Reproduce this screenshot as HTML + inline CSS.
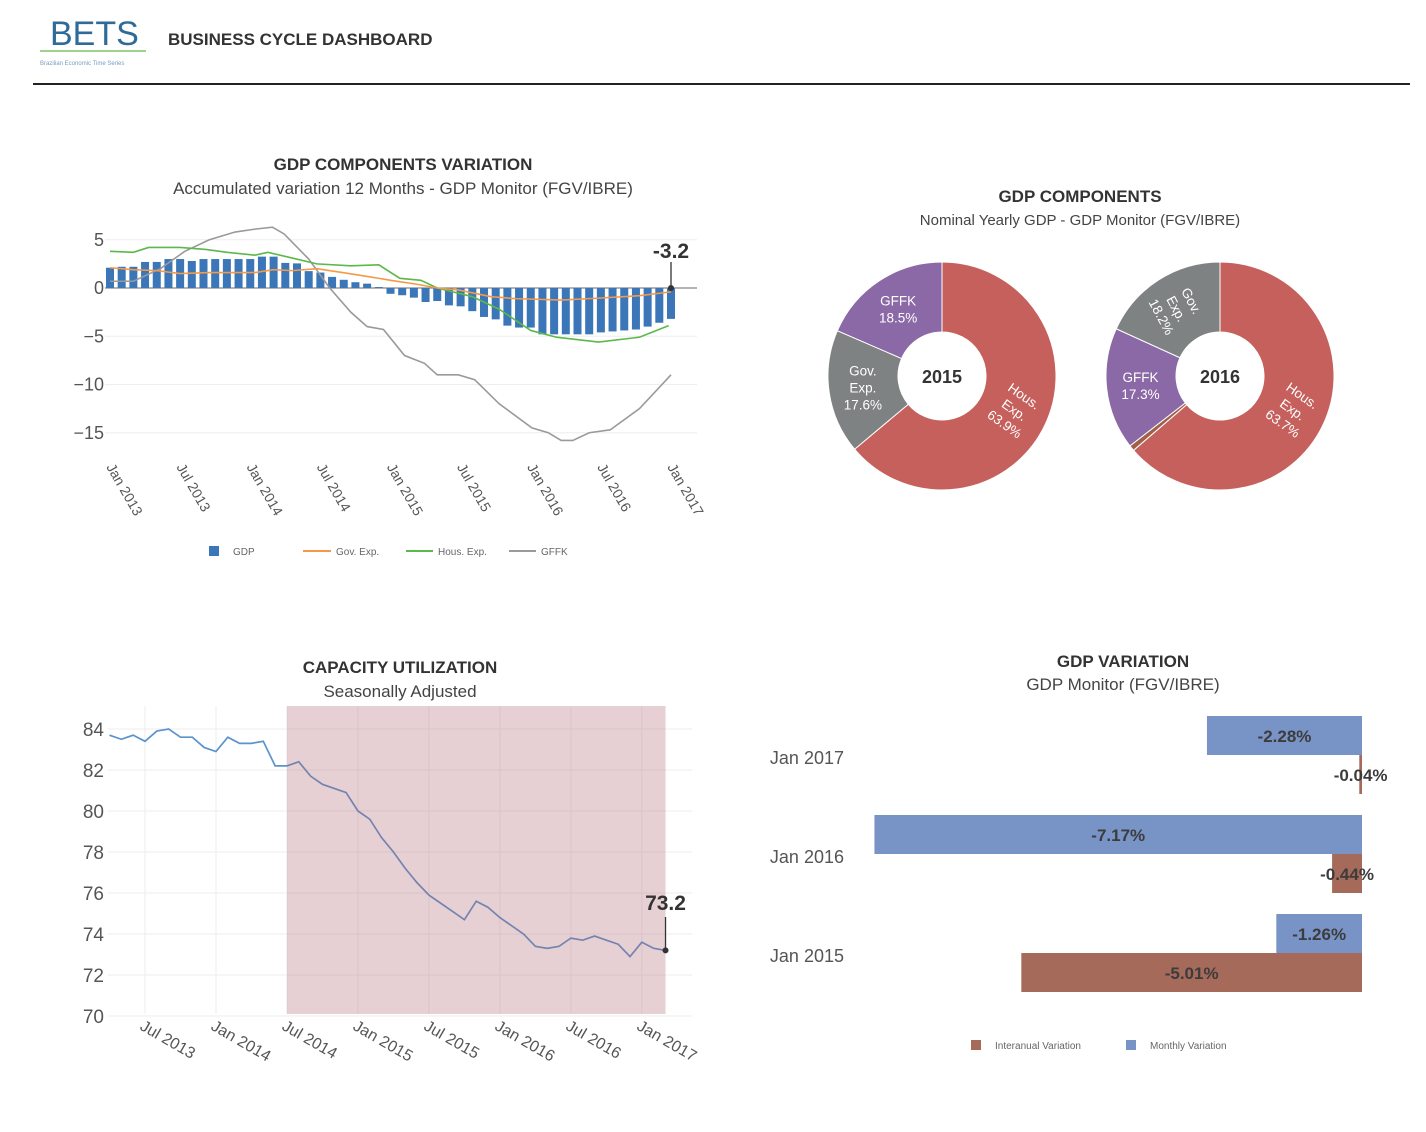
<!DOCTYPE html>
<html><head><meta charset="utf-8"><style>
html,body{margin:0;padding:0;background:#fff;}
svg{display:block;font-family:"Liberation Sans",sans-serif;}
</style></head><body>
<svg id="dash" width="1426" height="1132" viewBox="0 0 1426 1132" xmlns="http://www.w3.org/2000/svg">
<g>
<text x="50" y="45" font-size="34" fill="#2f6b98">BETS</text>
<line x1="40" y1="51" x2="146" y2="51" stroke="#9fd28c" stroke-width="2"/>
<text x="40" y="65" font-size="6" fill="#7a9cc0">Brazilian Economic Time Series</text>
<text x="168" y="45" font-size="17" font-weight="bold" fill="#333">BUSINESS CYCLE DASHBOARD</text>
<line x1="33" y1="84" x2="1410" y2="84" stroke="#222" stroke-width="2"/>
</g>
<text x="403" y="170" font-size="17" font-weight="bold" fill="#333" text-anchor="middle">GDP COMPONENTS VARIATION</text>
<text x="403" y="194" font-size="17" fill="#444" text-anchor="middle">Accumulated variation 12 Months - GDP Monitor (FGV/IBRE)</text>
<g id="c1"></g>
<text x="1080" y="202" font-size="17" font-weight="bold" fill="#333" text-anchor="middle">GDP COMPONENTS</text>
<text x="1080" y="225" font-size="15" fill="#444" text-anchor="middle">Nominal Yearly GDP - GDP Monitor (FGV/IBRE)</text>
<g id="c3"></g>
<text x="400" y="673" font-size="17" font-weight="bold" fill="#333" text-anchor="middle">CAPACITY UTILIZATION</text>
<text x="400" y="697" font-size="17" fill="#444" text-anchor="middle">Seasonally Adjusted</text>
<g id="c2"></g>
<text x="1123" y="667" font-size="17" font-weight="bold" fill="#333" text-anchor="middle">GDP VARIATION</text>
<text x="1123" y="690" font-size="17" fill="#444" text-anchor="middle">GDP Monitor (FGV/IBRE)</text>
<g id="c4"></g>
</svg>
<script>
// ---- Chart 1 data (month index from Jan 2013) ----
const gdpValues=[2.1,2.2,2.2,2.7,2.7,3.0,3.0,2.8,3.0,3.0,3.0,3.0,3.0,3.25,3.25,2.6,2.55,1.75,1.6,1.15,0.85,0.6,0.45,0.1,-0.6,-0.75,-1.0,-1.45,-1.35,-1.8,-1.9,-2.4,-3.0,-3.25,-3.9,-4.1,-4.1,-4.8,-4.8,-4.8,-4.8,-4.8,-4.6,-4.5,-4.4,-4.3,-4.0,-3.6,-3.2];
const govMonths=[0,2,4,6,8.5,10.7,12.4,14,15.6,17.7,19.9,22,24,26.2,28,29.8,32.6,34.7,38.6,41.8,45.3,48];
const govValues=[2.1,1.9,1.8,1.5,1.6,1.6,1.6,1.9,1.8,2.0,1.6,1.2,0.8,0.4,0,-0.2,-0.9,-1.1,-1.25,-1.05,-0.8,-0.4];
const housMonths=[0,2,3.3,6,8.2,10,12.4,13.5,15.6,17.7,20.6,23,24.8,26.6,28,31,33.3,36,38.2,41.8,45.3,47.8];
const housValues=[3.8,3.7,4.2,4.2,4.0,3.7,3.4,3.7,3.1,2.5,2.3,2.4,1.0,0.8,0,-0.9,-2.2,-4.4,-5.1,-5.6,-5.1,-3.9];
const gffkMonths=[0,2,4.3,6.4,8.5,10.7,12.4,13.9,14.9,17,18.8,20.6,22,23.4,25.2,26.9,28,29.8,31.2,33.3,36.1,37.5,38.6,39.6,41,42.8,45.3,48];
const gffkValues=[0.7,0.7,2.0,3.8,5.0,5.8,6.1,6.3,5.6,3.0,0,-2.5,-4.0,-4.3,-7,-7.8,-9.0,-9.0,-9.5,-12,-14.5,-15,-15.8,-15.8,-15.0,-14.7,-12.5,-9.0];
const c1YTicks=[5,0,-5,-10,-15];
const c1XTickMonths=[0,6,12,18,24,30,36,42,48];
const c1XTickLabels=["Jan 2013","Jul 2013","Jan 2014","Jul 2014","Jan 2015","Jul 2015","Jan 2016","Jul 2016","Jan 2017"];
// ---- Chart 2 data ----
const capMonthStart=3;
const capValues=[83.7,83.5,83.7,83.4,83.9,84.0,83.6,83.6,83.1,82.9,83.6,83.3,83.3,83.4,82.2,82.2,82.4,81.7,81.3,81.1,80.9,80.0,79.6,78.7,78.0,77.2,76.5,75.9,75.5,75.1,74.7,75.6,75.3,74.8,74.4,74.0,73.4,73.3,73.4,73.8,73.7,73.9,73.7,73.5,72.9,73.6,73.3,73.2];
const recessionStartMonth=18, recessionEndMonth=50;
const c2YTicks=[70,72,74,76,78,80,82,84];
const c2XTickMonths=[6,12,18,24,30,36,42,48];
const c2XTickLabels=["Jul 2013","Jan 2014","Jul 2014","Jan 2015","Jul 2015","Jan 2016","Jul 2016","Jan 2017"];
// ---- Chart 3 data ----
const pieYears=["2015","2016"];
const pieLabels2015=["Hous. Exp.","Gov. Exp.","GFFK"];
const pieValues2015=[63.9,17.6,18.5];
const pieLabels2016=["Hous. Exp.","Other","GFFK","Gov. Exp."];
const pieValues2016=[63.7,0.8,17.3,18.2];
// ---- Chart 4 data ----
const varCategories=["Jan 2017","Jan 2016","Jan 2015"];
const monthlyVar=[-2.28,-7.17,-1.26];
const interanualVar=[-0.04,-0.44,-5.01];

const NS="http://www.w3.org/2000/svg";
function mk(parent,tag,attrs,text){const e=document.createElementNS(NS,tag);for(const k in attrs)e.setAttribute(k,attrs[k]);if(text!==undefined)e.textContent=text;parent.appendChild(e);return e;}

// Chart 1
(function(){
const g=document.getElementById('c1');
const x=m=>110+m*(671-110)/48, y=v=>288-v*9.65;
c1YTicks.forEach(t=>{
  const l=mk(g,'line',{x1:105,x2:697,y1:y(t),y2:y(t),stroke:t===0?'#888':'#eee','stroke-width':t===0?1.3:1});
  
  
  const tx=mk(g,'text',{x:104,y:y(t)+6,'font-size':18,fill:'#555','text-anchor':'end'},t<0?'−'+Math.abs(t):String(t));
  
  
});
c1XTickMonths.forEach((m,i)=>{
  const tx=mk(g,'text',{x:0,y:0,'font-size':14,fill:'#555',transform:`translate(${x(m)-4},${467}) rotate(60)`},c1XTickLabels[i]);
  
  
});
gdpValues.forEach((v,i)=>{
  const r=mk(g,'rect',{x:x(i)-4,y:Math.min(y(v),y(0)),width:8,height:Math.abs(y(v)-y(0)),fill:'#3a76b8'});
  
  
});
function line(ms,vs,col,name){
  const p=mk(g,'polyline',{points:ms.map((m,i)=>x(m)+','+y(vs[i])).join(' '),fill:'none',stroke:col,'stroke-width':1.6});
  
  
}
line(gffkMonths,gffkValues,'#9a9a9a','gffk-line');
line(housMonths,housValues,'#5cb84a','hous-exp-line');
line(govMonths,govValues,'#f39a4a','gov-exp-line');
const last=gdpValues.length-1;
mk(g,'line',{x1:x(last),x2:x(last),y1:y(0),y2:262,stroke:'#333','stroke-width':1.3});
mk(g,'circle',{cx:x(last),cy:y(0),r:3,fill:'#333'});
const an=mk(g,'text',{x:x(last),y:258,'font-size':21,'font-weight':'bold',fill:'#333','text-anchor':'middle'},gdpValues[last].toFixed(1));


const lg=mk(g,'g',{});


mk(lg,'rect',{x:209,y:546,width:10,height:10,fill:'#3a76b8'});
mk(lg,'text',{x:233,y:555,'font-size':10,fill:'#666'},'GDP');
mk(lg,'line',{x1:303,x2:331,y1:551,y2:551,stroke:'#f39a4a','stroke-width':2});
mk(lg,'text',{x:336,y:555,'font-size':10,fill:'#666'},'Gov. Exp.');
mk(lg,'line',{x1:406,x2:433,y1:551,y2:551,stroke:'#5cb84a','stroke-width':2});
mk(lg,'text',{x:438,y:555,'font-size':10,fill:'#666'},'Hous. Exp.');
mk(lg,'line',{x1:509,x2:536,y1:551,y2:551,stroke:'#9a9a9a','stroke-width':2});
mk(lg,'text',{x:541,y:555,'font-size':10,fill:'#666'},'GFFK');
})();

// Chart 2
(function(){
const g=document.getElementById('c2');
const x=m=>145+(m-6)*11.83, y=v=>729-(v-84)*20.5;
c2YTicks.forEach(t=>{
  const l=mk(g,'line',{x1:108,x2:692,y1:y(t),y2:y(t),stroke:'#eee'});
  
  
  const tx=mk(g,'text',{x:104,y:y(t)+7,'font-size':19,fill:'#555','text-anchor':'end'},String(t));
  
  
});
c2XTickMonths.forEach((m,i)=>{
  mk(g,'line',{x1:x(m),x2:x(m),y1:706,y2:1014,stroke:'#eee'});
  const tx=mk(g,'text',{x:0,y:0,'font-size':16,fill:'#555',transform:`translate(${x(m)-6},${1029}) rotate(30)`},c2XTickLabels[i]);
  
  
});
const p=mk(g,'polyline',{points:capValues.map((v,i)=>x(capMonthStart+i)+','+y(v)).join(' '),fill:'none',stroke:'#5b93cc','stroke-width':1.7});


const r=mk(g,'rect',{x:x(recessionStartMonth),y:706,width:x(recessionEndMonth)-x(recessionStartMonth),height:308,fill:'#b06370','fill-opacity':0.3});


const lm=capMonthStart+capValues.length-1, lv=capValues[capValues.length-1];
mk(g,'line',{x1:x(lm),x2:x(lm),y1:y(lv),y2:917,stroke:'#333','stroke-width':1.3});
mk(g,'circle',{cx:x(lm),cy:y(lv),r:3,fill:'#333'});
const an=mk(g,'text',{x:x(lm),y:910,'font-size':21,'font-weight':'bold',fill:'#333','text-anchor':'middle'},lv.toFixed(1));


})();

// Chart 3
(function(){
const g=document.getElementById('c3');
const colors={"Hous. Exp.":"#c5605c","Gov. Exp.":"#7f8282","GFFK":"#8b68a6","Other":"#a0604a"};
const labelRot={"Hous. Exp.":35,"Gov. Exp.":0,"GFFK":0,"Other":0};
const centers=[[942,376],[1220,376]];
const R=114,r0=44;
[[pieLabels2015,pieValues2015],[pieLabels2016,pieValues2016]].forEach((d,k)=>{
  const [cx,cy]=centers[k];
  const tot=d[1].reduce((a,b)=>a+b,0);
  let a=0;
  d[1].forEach((v,i)=>{
    const a0=a/tot*2*Math.PI, a1=(a+v)/tot*2*Math.PI; a+=v;
    const P=(rr,t)=>[cx+rr*Math.sin(t),cy-rr*Math.cos(t)];
    const large=(a1-a0)>Math.PI?1:0;
    const [x0,y0]=P(R,a0),[x1,y1]=P(R,a1),[x2,y2]=P(r0,a1),[x3,y3]=P(r0,a0);
    const s=mk(g,'path',{d:`M${x0},${y0}A${R},${R} 0 ${large} 1 ${x1},${y1}L${x2},${y2}A${r0},${r0} 0 ${large} 0 ${x3},${y3}Z`,fill:colors[d[0][i]],stroke:'#fff','stroke-width':1});
    
    
    if(d[0][i]==='Other')return;
    const am=(a0+a1)/2; const [lx,ly]=P(80,am);
    let rot=labelRot[d[0][i]]; if(k===1&&d[0][i]==='Gov. Exp.')rot=62;
    const words=d[0][i].split(' ').concat([v.toFixed(1)+'%']);
    const t=mk(g,'text',{x:lx,y:ly,'font-size':13.5,fill:'#fff','text-anchor':'middle',transform:`rotate(${rot},${lx},${ly})`});
    
    
    const n=words.length;
    words.forEach((w,j)=>mk(t,'tspan',{x:lx,y:ly+(j-(n-1)/2)*17+5},w));
  });
  const yt=mk(g,'text',{x:cx,y:cy+7,'font-size':18,'font-weight':'bold',fill:'#333','text-anchor':'middle'},pieYears[k]);
  
  
});
})();

// Chart 4
(function(){
const g=document.getElementById('c4');
const x=v=>1362+v*68;
const rowC=[755,854,953];
varCategories.forEach((c,i)=>{
  const t=mk(g,'text',{x:844,y:rowC[i]+9,'font-size':18,fill:'#555','text-anchor':'end'},c);
  
  
  const b=mk(g,'rect',{x:x(monthlyVar[i]),y:rowC[i]-39,width:x(0)-x(monthlyVar[i]),height:39,fill:'#7893c6'});
  
  
  const b2=mk(g,'rect',{x:x(interanualVar[i]),y:rowC[i],width:Math.max(2,x(0)-x(interanualVar[i])),height:39,fill:'#a56a59'});
  
  
  const tm=mk(g,'text',{x:(x(monthlyVar[i])+x(0))/2,y:rowC[i]-13,'font-size':17,'font-weight':'bold',fill:'#3c3c3c','text-anchor':'middle'},monthlyVar[i].toFixed(2)+'%');
  
  
  const ti=mk(g,'text',{x:Math.min((x(interanualVar[i])+x(0))/2,1362),y:rowC[i]+26,'font-size':17,'font-weight':'bold',fill:'#3c3c3c','text-anchor':'middle'},interanualVar[i].toFixed(2)+'%');
  
  
});
const lg=mk(g,'g',{});


mk(lg,'rect',{x:971,y:1040,width:10,height:10,fill:'#a56a59'});
mk(lg,'text',{x:995,y:1049,'font-size':10,fill:'#666'},'Interanual Variation');
mk(lg,'rect',{x:1126,y:1040,width:10,height:10,fill:'#7893c6'});
mk(lg,'text',{x:1150,y:1049,'font-size':10,fill:'#666'},'Monthly Variation');
})();
</script>
</body></html>
